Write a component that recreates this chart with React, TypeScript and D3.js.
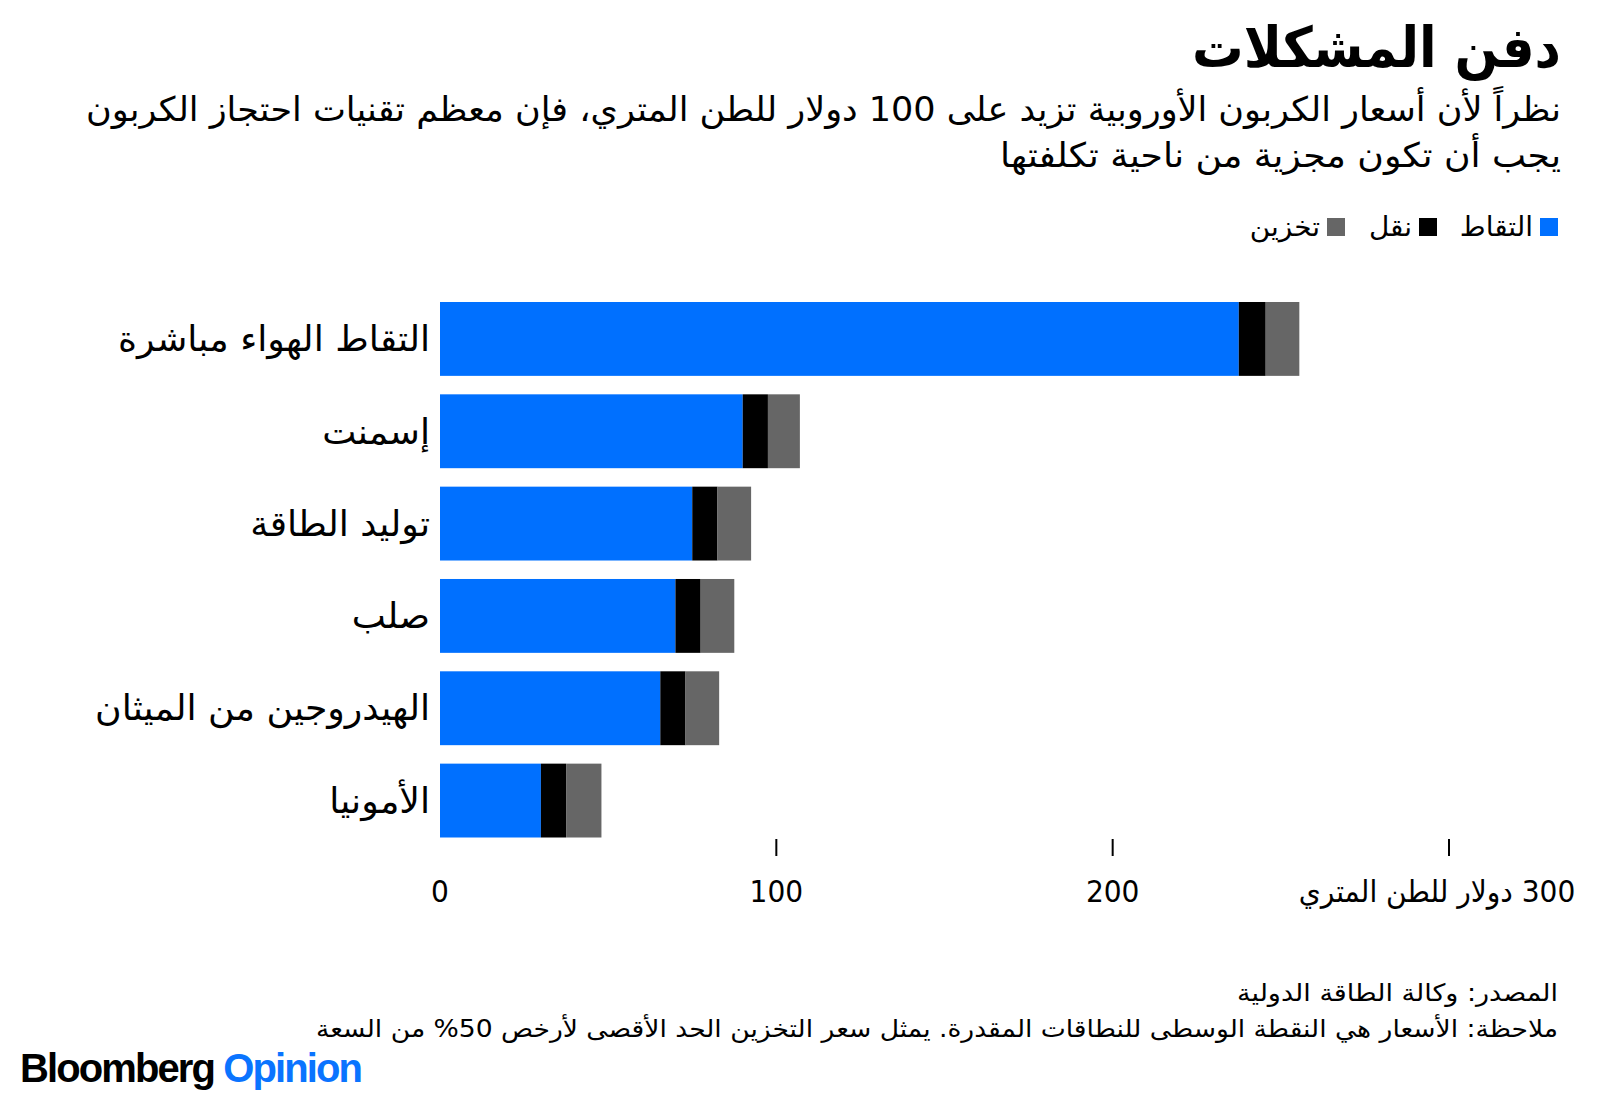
import React, { useEffect, useRef } from 'react';
import * as d3 from 'd3';

const categories = [
  "التقاط الهواء مباشرة",
  "إسمنت",
  "توليد الطاقة",
  "صلب",
  "الهيدروجين من الميثان",
  "الأمونيا",
];
const capture = [237.5, 90, 75, 70, 65.5, 30];
const transport = [8, 7.5, 7.5, 7.5, 7.5, 7.5];
const storage = [10, 9.5, 10, 10, 10, 10.5];

const seriesNames = ["التقاط", "نقل", "تخزين"];
const seriesColors = ["#0070ff", "#000000", "#666666"];
const tickValues = [0, 100, 200, 300];
const tickLabels = ["0", "100", "200", "300 دولار للطن المتري"];

const title = "دفن المشكلات";
const subtitle = [
  "نظراً لأن أسعار الكربون الأوروبية تزيد على 100 دولار للطن المتري، فإن معظم تقنيات احتجاز الكربون",
  "يجب أن تكون مجزية من ناحية تكلفتها",
];
const source = "المصدر: وكالة الطاقة الدولية";
const note = "ملاحظة: الأسعار هي النقطة الوسطى للنطاقات المقدرة. يمثل سعر التخزين الحد الأقصى لأرخص 50% من السعة";

const FONT = "'DejaVu Sans Condensed', 'DejaVu Sans', sans-serif";

const App = () => {
  const svgRef = useRef<SVGSVGElement>(null);

  useEffect(() => {
    const width = 1600;
    const height = 1119;
    const svg = d3.select(svgRef.current);
    svg.selectAll("*").remove();
    svg.attr("width", width).attr("height", height)
      .style("font-family", FONT);

    svg.append("rect").attr("width", width).attr("height", height).attr("fill", "#fff");

    const right = 1561;

    // title + subtitle (stretched to the width of the original condensed face)
    svg.append("text")
      .attr("x", right).attr("y", 67)
      .attr("direction", "rtl").attr("text-anchor", "start")
      .attr("font-size", 56).attr("font-weight", "bold")
      .attr("textLength", 369).attr("lengthAdjust", "spacingAndGlyphs")
      .text(title);

    const subLen = [1475, 561];
    svg.append("g").selectAll("text")
      .data(subtitle)
      .join("text")
      .attr("x", right)
      .attr("y", (d, i) => 121 + i * 46)
      .attr("direction", "rtl").attr("text-anchor", "start")
      .attr("font-size", 34)
      .attr("textLength", (d, i) => subLen[i]).attr("lengthAdjust", "spacingAndGlyphs")
      .text(d => d);

    // legend
    const legendX = [1558, 1437, 1345];
    const legend = svg.append("g").selectAll("g")
      .data(seriesNames)
      .join("g")
      .attr("transform", (d, i) => `translate(${legendX[i]},0)`);
    legend.append("rect")
      .attr("x", -18).attr("y", 218).attr("width", 18).attr("height", 18)
      .attr("fill", (d, i) => seriesColors[i]);
    legend.append("text")
      .attr("transform", "translate(-25,236) scale(1.15,1)")
      .attr("direction", "rtl").attr("text-anchor", "start")
      .attr("font-size", 27)
      .text(d => d);

    // scales
    const x = d3.scaleLinear().domain([0, 300]).range([440, 1449]);
    const y = d3.scaleBand().domain(categories).range([302, 837.5]).paddingInner(0.2).paddingOuter(0);

    const rows = categories.map((c, i) => ({ name: c, capture: capture[i], transport: transport[i], storage: storage[i] }));
    const stack = d3.stack<any>().keys(["capture", "transport", "storage"]);
    const stacked = stack(rows);

    svg.append("g").selectAll("g")
      .data(stacked)
      .join("g")
      .attr("fill", (d, i) => seriesColors[i])
      .selectAll("rect")
      .data(d => d)
      .join("rect")
      .attr("x", d => x(d[0]))
      .attr("width", d => x(d[1]) - x(d[0]))
      .attr("y", d => y(d.data.name)!)
      .attr("height", y.bandwidth());

    // category labels
    svg.append("g").selectAll("text")
      .data(categories)
      .join("text")
      .attr("transform", d => `translate(430,${y(d)! + y.bandwidth() / 2}) scale(1.15,1)`)
      .attr("dy", "0.35em")
      .attr("direction", "rtl").attr("text-anchor", "start")
      .attr("font-size", 35)
      .text(d => d);

    // axis ticks
    svg.append("g").selectAll("line")
      .data(tickValues.filter(v => v > 0))
      .join("line")
      .attr("x1", d => x(d)).attr("x2", d => x(d))
      .attr("y1", 839).attr("y2", 856)
      .attr("stroke", "#000").attr("stroke-width", 2);

    svg.append("g").selectAll("text")
      .data(tickValues)
      .join("text")
      .attr("transform", d => `translate(${x(d) - (d === 300 ? 12 : 0)},902) scale(1.04,1)`)
      .attr("direction", "rtl").attr("text-anchor", "middle")
      .attr("font-size", 30)
      .text((d, i) => tickLabels[i]);

    // footer
    svg.append("text")
      .attr("x", 1558).attr("y", 1001)
      .attr("direction", "rtl").attr("text-anchor", "start")
      .attr("font-size", 24)
      .attr("textLength", 321).attr("lengthAdjust", "spacingAndGlyphs")
      .text(source);
    svg.append("text")
      .attr("x", 1558).attr("y", 1037)
      .attr("direction", "rtl").attr("text-anchor", "start")
      .attr("font-size", 24)
      .attr("textLength", 1242).attr("lengthAdjust", "spacingAndGlyphs")
      .text(note);

    const brand = svg.append("text")
      .attr("x", 20).attr("y", 1082)
      .attr("font-family", "'Liberation Sans', Arial, sans-serif")
      .attr("font-weight", "bold")
      .attr("font-size", 40)
      .attr("letter-spacing", -1.9);
    brand.append("tspan").attr("fill", "#000").text("Bloomberg ");
    brand.append("tspan").attr("fill", "#0a74ff").text("Opinion");
  }, []);

  return (
    <svg ref={svgRef} style={{ position: "absolute", top: 0, left: 0, display: "block" }} />
  );
};

export default App;
